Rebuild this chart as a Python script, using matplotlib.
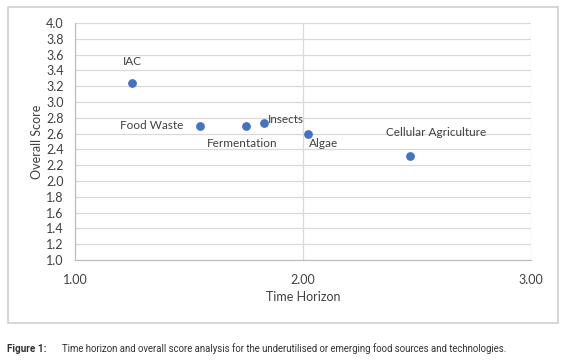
import matplotlib
matplotlib.use("Agg")
import matplotlib.pyplot as plt
from matplotlib.patches import Rectangle

labels = ["IAC", "Food Waste", "Fermentation", "Insects", "Algae", "Cellular Agriculture"]
time_horizon = [1.25, 1.55, 1.75, 1.83, 2.02, 2.47]
overall_score = [3.24, 2.70, 2.69, 2.73, 2.60, 2.32]
x_ticks = [1.0, 2.0, 3.0]
y_ticks = [1.0, 1.2, 1.4, 1.6, 1.8, 2.0, 2.2, 2.4, 2.6, 2.8, 3.0, 3.2, 3.4, 3.6, 3.8, 4.0]

# label offsets in pixels and alignment
offsets = {
    "IAC": (0, 22, "center", "center"),
    "Food Waste": (-17, 0, "right", "center"),
    "Fermentation": (-4, -17, "center", "center"),
    "Insects": (4, 4, "left", "center"),
    "Algae": (1, -10, "left", "center"),
    "Cellular Agriculture": (26, 23, "center", "center"),
}

W, H = 568, 364
fig = plt.figure(figsize=(W / 100, H / 100), dpi=100)
fig.patch.set_facecolor("white")

font = ["Lato", "DejaVu Sans"]
txtcol = "#404040"

# outer border
fig.add_artist(Rectangle((8 / W, 1 - 323 / H), (558 - 8) / W, (323 - 7) / H,
                         transform=fig.transFigure, fill=False,
                         edgecolor="#d0d0d0", linewidth=1.2))

ax = fig.add_axes([75 / W, 1 - 260 / H, (531 - 75) / W, (260 - 23) / H])
ax.scatter(time_horizon, overall_score, s=28, color="#4472C4", zorder=3)
ax.set_xlim(1, 3)
ax.set_ylim(1, 4)
ax.set_xticks(x_ticks)
ax.set_xticklabels([f"{v:.2f}" for v in x_ticks], family=font, fontsize=9, color=txtcol)
ax.set_yticks(y_ticks)
ax.set_yticklabels([f"{v:.1f}" for v in y_ticks], family=font, fontsize=9, color=txtcol)
ax.grid(True, color="#d9d9d9", linewidth=0.9)
ax.set_axisbelow(True)
for s in ["top", "right"]:
    ax.spines[s].set_visible(False)
for s in ["left", "bottom"]:
    ax.spines[s].set_color("#bfbfbf")
    ax.spines[s].set_linewidth(0.9)
ax.tick_params(length=0, pad=8)
ax.tick_params(axis="x", pad=10)
ax.set_xlabel("Time Horizon", family=font, fontsize=9, color=txtcol, labelpad=4)
ax.set_ylabel("Overall Score", family=font, fontsize=9, color=txtcol, labelpad=2)

for lab, x, y in zip(labels, time_horizon, overall_score):
    dx, dy, ha, va = offsets[lab]
    ax.annotate(lab, (x, y), xytext=(dx, dy), textcoords="offset pixels",
                ha=ha, va=va, family=font, fontsize=8.5, color=txtcol)

capfont = ["Roboto", "DejaVu Sans"]
fig.text(7 / W, 1 - 349 / H, "Figure 1:", family=capfont, fontsize=7.2,
         fontweight="bold", color="#333333", va="center", ha="left")
fig.text(62 / W, 1 - 349 / H,
         "Time horizon and overall score analysis for the underutilised or emerging food sources and technologies.",
         family=capfont, fontsize=6.95, color="#333333", va="center", ha="left")

fig.savefig("out.png", dpi=100, facecolor="white")
